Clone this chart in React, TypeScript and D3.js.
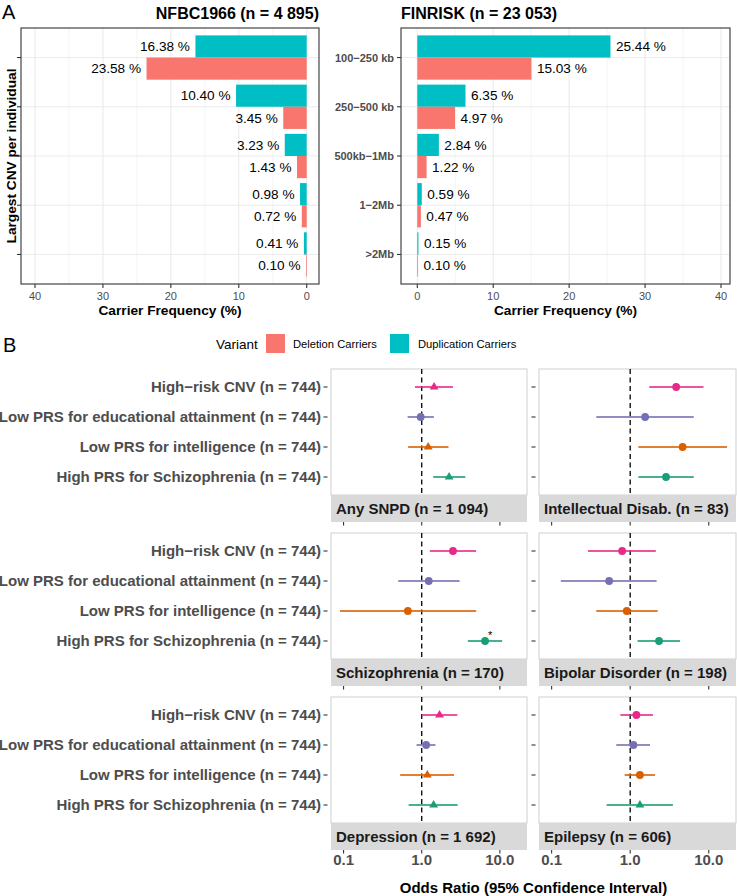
import React from "react";
import * as d3 from "d3";

// ---------- Panel A data ----------
const cnvSizes = ["100−250 kb", "250−500 kb", "500kb−1Mb", "1−2Mb", ">2Mb"];
const nfbcDuplication = [16.38, 10.4, 3.23, 0.98, 0.41];
const nfbcDeletion = [23.58, 3.45, 1.43, 0.72, 0.1];
const finriskDuplication = [25.44, 6.35, 2.84, 0.59, 0.15];
const finriskDeletion = [15.03, 4.97, 1.22, 0.47, 0.1];
const frequencyTicks = [0, 10, 20, 30, 40];
const frequencyMinorTicks = [5, 15, 25, 35];
const variantNames = ["Deletion Carriers", "Duplication Carriers"];
const variantColors = ["#F8766D", "#00BFC4"];

// ---------- Panel B data ----------
const exposures = [
  "High−risk CNV (n = 744)",
  "Low PRS for educational attainment (n = 744)",
  "Low PRS for intelligence (n = 744)",
  "High PRS for Schizophrenia (n = 744)",
];
const exposureColors = ["#E7298A", "#7570B3", "#D95F02", "#1B9E77"];
const outcomes = [
  "Any SNPD (n = 1 094)",
  "Intellectual Disab. (n = 83)",
  "Schizophrenia (n = 170)",
  "Bipolar Disorder (n = 198)",
  "Depression (n = 1 692)",
  "Epilepsy (n = 606)",
];
const oddsRatio = [
  [1.44, 0.97, 1.21, 2.24],
  [3.85, 1.55, 4.65, 2.86],
  [2.51, 1.23, 0.665, 6.46],
  [0.79, 0.54, 0.905, 2.33],
  [1.69, 1.14, 1.18, 1.42],
  [1.2, 1.1, 1.33, 1.33],
];
const ciLower = [
  [0.82, 0.66, 0.67, 1.4],
  [1.75, 0.37, 1.27, 1.27],
  [1.27, 0.5, 0.0898, 3.89],
  [0.29, 0.131, 0.37, 1.24],
  [1.0, 0.86, 0.53, 0.68],
  [0.75, 0.665, 0.85, 0.5],
];
const ciUpper = [
  [2.51, 1.43, 2.2, 3.61],
  [8.57, 6.45, 17.1, 6.45],
  [4.97, 3.05, 4.97, 10.7],
  [2.12, 2.17, 2.24, 4.31],
  [2.86, 1.5, 2.59, 2.88],
  [1.95, 1.79, 2.07, 3.5],
];
const pointShapes = [
  ["triangle", "circle", "triangle", "triangle"],
  ["circle", "circle", "circle", "circle"],
  ["circle", "circle", "circle", "circle"],
  ["circle", "circle", "circle", "circle"],
  ["triangle", "circle", "triangle", "triangle"],
  ["circle", "circle", "circle", "triangle"],
];
const significant = [
  [false, false, false, false],
  [false, false, false, false],
  [false, false, false, true],
  [false, false, false, false],
  [false, false, false, false],
  [false, false, false, false],
];
const orTicks = [0.1, 1, 10];
const orTickLabels = ["0.1", "1.0", "10.0"];

const FONT = "'Liberation Sans', Arial, Helvetica, sans-serif";

function BarPanel({ dup, del, side, title }: any) {
  const left = side === "left";
  const px0 = left ? 21 : 401;
  const px1 = left ? 319 : 730;
  const x = d3
    .scaleLinear()
    .domain([0, 40])
    .range(left ? [306.7, 35] : [417.3, 721]);
  const top = 28;
  const bottom = 284;
  const y = d3.scalePoint<string>().domain(cnvSizes).range([top, bottom]).padding(0.6);
  const step = y.step();
  const bh = step * 0.45;
  const x0 = x(0);
  return (
    <g>
      <rect x={px0} y={top} width={px1 - px0} height={bottom - top} fill="#fff" />
      {frequencyMinorTicks.map((t) => (
        <line key={"m" + t} x1={x(t)} x2={x(t)} y1={top} y2={bottom} stroke="#EBEBEB" strokeWidth={0.55} />
      ))}
      {frequencyTicks.map((t) => (
        <line key={"g" + t} x1={x(t)} x2={x(t)} y1={top} y2={bottom} stroke="#EBEBEB" strokeWidth={1.1} />
      ))}
      {cnvSizes.map((c) => (
        <line key={"h" + c} x1={px0} x2={px1} y1={y(c)} y2={y(c)} stroke="#EBEBEB" strokeWidth={1.1} />
      ))}
      {cnvSizes.map((c, i) => {
        const cy = y(c) as number;
        const vd = dup[i];
        const vl = del[i];
        return (
          <g key={"b" + c}>
            <rect
              x={Math.min(x(vd), x0)}
              y={cy - bh}
              width={Math.abs(x(vd) - x0)}
              height={bh}
              fill={variantColors[1]}
            />
            <rect
              x={Math.min(x(vl), x0)}
              y={cy}
              width={Math.abs(x(vl) - x0)}
              height={bh}
              fill={variantColors[0]}
            />
            <text
              x={left ? x(vd) - 5.5 : x(vd) + 5.5}
              y={cy - bh / 2 + 4.8}
              fontSize={13.6}
              textAnchor={left ? "end" : "start"}
              fill="#000"
            >
              {vd.toFixed(2) + " %"}
            </text>
            <text
              x={left ? x(vl) - 5.5 : x(vl) + 5.5}
              y={cy + bh / 2 + 4.8}
              fontSize={13.6}
              textAnchor={left ? "end" : "start"}
              fill="#000"
            >
              {vl.toFixed(2) + " %"}
            </text>
          </g>
        );
      })}
      <rect x={px0} y={top} width={px1 - px0} height={bottom - top} fill="none" stroke="#333333" strokeWidth={1.1} />
      {cnvSizes.map((c) => (
        <line key={"yt" + c} x1={px0 - 4} x2={px0} y1={y(c)} y2={y(c)} stroke="#333333" strokeWidth={1.1} />
      ))}
      {!left &&
        cnvSizes.map((c) => (
          <text
            key={"yl" + c}
            x={px0 - 7}
            y={(y(c) as number) + 4}
            fontSize={11}
            fontWeight="bold"
            fill="#4D4D4D"
            textAnchor="end"
          >
            {c}
          </text>
        ))}
      {frequencyTicks.map((t) => (
        <g key={"xt" + t}>
          <line x1={x(t)} x2={x(t)} y1={bottom} y2={bottom + 4} stroke="#333333" strokeWidth={1.1} />
          <text x={x(t)} y={bottom + 15.5} fontSize={11} fill="#4D4D4D" textAnchor="middle">
            {t}
          </text>
        </g>
      ))}
      <text
        x={(px0 + px1) / 2}
        y={315}
        fontSize={13.7}
        fontWeight="bold"
        textAnchor="middle"
        fill="#000"
      >
        Carrier Frequency (%)
      </text>
      <text
        x={left ? px1 : px0}
        y={18.5}
        fontSize={16}
        fontWeight="bold"
        textAnchor={left ? "end" : "start"}
        fill="#000"
      >
        {title}
      </text>
    </g>
  );
}

function ForestPanel({ idx }: any) {
  const col = idx % 2;
  const row = Math.floor(idx / 2);
  const cols = [
    [331, 527],
    [539, 736],
  ];
  const rowTop = 369 + row * 164;
  const panelH = 126;
  const stripH = 27;
  const [px0, px1] = cols[col];
  const allLo = ciLower.flat();
  const allHi = ciUpper.flat();
  const lmin = Math.log10(d3.min(allLo) as number);
  const lmax = Math.log10(d3.max(allHi) as number);
  const pad = (lmax - lmin) * 0.05;
  const x = d3
    .scaleLog()
    .domain([Math.pow(10, lmin - pad), Math.pow(10, lmax + pad)])
    .range([px0, px1]);
  const y = d3.scalePoint<string>().domain(exposures).range([rowTop, rowTop + panelH]).padding(0.6);
  const tri = d3.symbol().type(d3.symbolTriangle).size(34)();
  const stripBottom = rowTop + panelH + stripH;
  return (
    <g>
      <rect x={px0} y={rowTop} width={px1 - px0} height={panelH} fill="#fff" stroke="#D4D4D4" strokeWidth={1.1} />
      <line
        x1={x(1)}
        x2={x(1)}
        y1={rowTop}
        y2={rowTop + panelH}
        stroke="#000"
        strokeWidth={1.3}
        strokeDasharray="5,3.5"
      />
      {exposures.map((e, i) => {
        const cy = y(e) as number;
        const cx = x(oddsRatio[idx][i]);
        const color = exposureColors[i];
        return (
          <g key={"p" + i}>
            <line
              x1={x(ciLower[idx][i])}
              x2={x(ciUpper[idx][i])}
              y1={cy}
              y2={cy}
              stroke={color}
              strokeWidth={2}
              strokeOpacity={0.8}
            />
            {pointShapes[idx][i] === "circle" ? (
              <circle cx={cx} cy={cy} r={3.9} fill={color} />
            ) : (
              <path d={tri as string} transform={`translate(${cx},${cy})`} fill={color} />
            )}
            {significant[idx][i] && (
              <text x={cx + 5} y={cy - 2} fontSize={11} textAnchor="middle" fill="#000">
                *
              </text>
            )}
          </g>
        );
      })}
      <rect x={px0} y={rowTop + panelH} width={px1 - px0} height={stripH} fill="#D9D9D9" />
      <text
        x={px0 + 5}
        y={rowTop + panelH + stripH / 2 + 5.3}
        fontSize={15}
        fontWeight="bold"
        fill="#1A1A1A"
      >
        {outcomes[idx]}
      </text>
      {exposures.map((e) => (
        <line
          key={"yt" + e}
          x1={px0 - 7.5}
          x2={px0 - 3.5}
          y1={y(e)}
          y2={y(e)}
          stroke="#333333"
          strokeWidth={1.1}
        />
      ))}
      {col === 0 &&
        exposures.map((e) => (
          <text
            key={"yl" + e}
            x={px0 - 10}
            y={(y(e) as number) + 5.3}
            fontSize={15}
            fontWeight="bold"
            fill="#4D4D4D"
            textAnchor="end"
          >
            {e}
          </text>
        ))}
      {orTicks.map((t, k) => (
        <g key={"xt" + t}>
          <line x1={x(t)} x2={x(t)} y1={stripBottom} y2={stripBottom + 3.5} stroke="#333333" strokeWidth={1.1} />
          {row === 2 && (
            <text
              x={x(t)}
              y={stripBottom + 15}
              fontSize={15}
              fontWeight="bold"
              fill="#4D4D4D"
              textAnchor="middle"
            >
              {orTickLabels[k]}
            </text>
          )}
        </g>
      ))}
    </g>
  );
}

export default function App() {
  return (
    <svg
      width={737}
      height={896}
      style={{ position: "absolute", left: 0, top: 0, background: "#fff" }}
      fontFamily={FONT}
    >
      <rect width={737} height={896} fill="#fff" />
      <text x={2} y={18.5} fontSize={20} fill="#000">
        A
      </text>
      <text x={3} y={352} fontSize={20} fill="#000">
        B
      </text>
      <text
        transform="translate(15.5,156) rotate(-90)"
        fontSize={13.7}
        fontWeight="bold"
        textAnchor="middle"
        fill="#000"
      >
        Largest CNV per individual
      </text>
      <BarPanel dup={nfbcDuplication} del={nfbcDeletion} side="left" title="NFBC1966 (n = 4 895)" />
      <BarPanel dup={finriskDuplication} del={finriskDeletion} side="right" title="FINRISK (n = 23 053)" />

      <text x={216} y={348.7} fontSize={13.5} fill="#000">
        Variant
      </text>
      <rect x={266} y={334} width={19} height={19} fill={variantColors[0]} />
      <text x={293} y={348} fontSize={11.2} fill="#000">
        {variantNames[0]}
      </text>
      <rect x={390} y={334} width={19} height={19} fill={variantColors[1]} />
      <text x={418} y={348} fontSize={11.2} fill="#000">
        {variantNames[1]}
      </text>

      {outcomes.map((o, i) => (
        <ForestPanel key={o} idx={i} />
      ))}
      <text x={533.5} y={893} fontSize={15} fontWeight="bold" textAnchor="middle" fill="#000">
        Odds Ratio (95% Confidence Interval)
      </text>
    </svg>
  );
}
